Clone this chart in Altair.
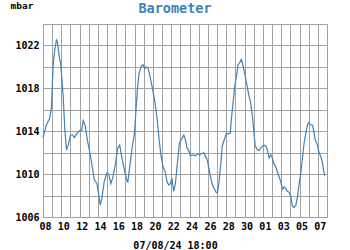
import altair as alt
import pandas as pd

# Days since 08 Jul 2024 00:00 and barometric pressure (mbar)
days = [0.0, 0.37, 0.73, 0.92, 1.1, 1.28, 1.47, 1.58, 1.76, 1.94, 2.2, 2.39, 2.57, 2.75,
        3.0, 3.23, 3.41, 3.67, 3.96, 4.22, 4.4, 4.59, 4.84, 5.14, 5.43, 5.61, 5.87, 6.06,
        6.24, 6.42, 6.68, 6.97, 7.16, 7.41, 7.63, 7.89, 8.15, 8.37, 8.62, 8.88, 9.1, 9.25,
        9.47, 9.72, 9.98, 10.1, 10.3, 10.48, 10.74, 10.92, 11.1, 11.25, 11.47, 11.69, 11.95,
        12.2, 12.43, 12.68, 12.87, 13.09, 13.35, 13.53, 13.71, 13.9, 14.08, 14.26, 14.45,
        14.63, 14.89, 15.15, 15.37, 15.55, 15.74, 15.92, 16.1, 16.36, 16.62, 16.9, 17.1,
        17.28, 17.54, 17.72, 17.94, 18.2, 18.46, 18.68, 18.9, 19.04, 19.19, 19.41, 19.56,
        19.78, 20.04, 20.22, 20.44, 20.56, 20.74, 20.93, 21.11, 21.29, 21.47, 21.66, 21.84,
        22.02, 22.28, 22.49, 22.64, 22.86, 23.0, 23.15, 23.37, 23.59, 23.77, 23.95, 24.13,
        24.32, 24.5, 24.68, 24.86, 25.04, 25.23, 25.4, 25.59, 25.77, 25.95, 26.14, 26.32,
        26.5, 26.68, 26.86, 27.05, 27.23, 27.41, 27.6, 27.78, 27.96, 28.14, 28.32, 28.5,
        28.69, 28.87, 29.01, 29.2, 29.42, 29.56, 29.71, 29.93, 30.1, 30.29, 30.47, 30.62,
        30.76]
pressure = [1013.4, 1014.6, 1015.2, 1016.2, 1020.1, 1021.6, 1022.5, 1022.3, 1021.0, 1020.2,
            1017.25, 1014.1, 1012.25, 1012.7, 1013.65, 1013.65, 1013.4, 1013.75, 1014.05,
            1014.1, 1015.0, 1014.6, 1013.2, 1011.9, 1010.4, 1009.4, 1009.2, 1008.2, 1007.1,
            1007.7, 1009.3, 1010.1, 1010.0, 1009.1, 1009.75, 1010.85, 1012.4, 1012.7, 1011.5,
            1010.4, 1009.6, 1009.2, 1010.7, 1012.4, 1013.8, 1015.3, 1017.9, 1019.4, 1020.1,
            1020.2, 1019.8, 1020.0, 1019.9, 1019.1, 1018.0, 1016.8, 1015.4, 1013.2, 1011.8,
            1010.7, 1010.2, 1009.3, 1009.0, 1009.1, 1009.6, 1008.4, 1009.1, 1010.7, 1012.9,
            1013.3, 1013.65, 1013.2, 1012.4, 1012.2, 1011.7, 1011.8, 1011.7, 1011.9, 1011.8,
            1011.9, 1012.0, 1011.7, 1011.3, 1010.1, 1009.1, 1008.65, 1008.3, 1008.25, 1009.1,
            1011.0, 1012.6, 1013.2, 1013.8, 1013.75, 1013.8, 1015.1, 1016.6, 1018.2, 1019.1,
            1020.2, 1020.4, 1020.7, 1020.1, 1019.4, 1018.2, 1017.25, 1016.8, 1015.4, 1014.1,
            1012.7, 1012.3, 1012.2, 1012.4, 1012.6, 1012.7, 1012.6, 1012.25, 1011.5, 1011.8,
            1011.5, 1010.9, 1010.7, 1010.2, 1009.75, 1009.3, 1008.6, 1008.8, 1008.65, 1008.4,
            1008.3, 1007.9, 1007.0, 1006.9, 1007.1, 1007.9, 1009.1, 1010.1, 1011.5, 1012.9,
            1013.8, 1014.6, 1014.8, 1014.6, 1014.55, 1014.0, 1013.2, 1012.8, 1012.1, 1011.7,
            1011.2, 1010.4, 1009.85]

x_tick_labels = ["08", "10", "12", "14", "16", "18", "20", "22", "24", "26", "28", "30",
                 "01", "03", "05", "07"]
y_grid_values = [1006, 1008, 1010, 1012, 1014, 1016, 1018, 1020, 1022, 1024]
x_grid_values = list(range(0, 32))

df = pd.DataFrame({"day": days, "mbar": pressure})

FONT = "DejaVu Sans Mono"
GRID = "#a0a0a0"
BLUE = "#4282b4"

label_array = "[" + ",".join("'" + s + "'" for s in x_tick_labels) + "]"
x_label_expr = ("datum.value % 2 == 0 && datum.value < 31 ? "
                + label_array + "[datum.value / 2] : ''")

chart = (
    alt.Chart(df)
    .mark_line(color=BLUE, strokeWidth=1.2)
    .encode(
        x=alt.X(
            "day:Q",
            scale=alt.Scale(domain=[0, 31], nice=False, zero=False),
            axis=alt.Axis(
                values=x_grid_values,
                labelExpr=x_label_expr,
                ticks=False,
                domain=False,
                grid=True,
                gridColor=GRID,
                gridOpacity=1,
                gridWidth=1,
                labelFont=FONT,
                labelFontWeight="bold",
                labelFontSize=10,
                labelColor="black",
                labelPadding=4,
                labelOffset=2,
                labelOverlap=False,
                labelFlush=False,
                labelBound=False,
                title="07/08/24 18:00",
                titleFont=FONT,
                titleFontWeight="bold",
                titleFontSize=10,
                titleColor="black",
                titleX=132,
                titleY=31,
                titleAlign="center",
                titleBaseline="alphabetic",
            ),
        ),
        y=alt.Y(
            "mbar:Q",
            scale=alt.Scale(domain=[1006, 1024], nice=False, zero=False),
            axis=alt.Axis(
                values=y_grid_values,
                labelExpr="(datum.value - 1006) % 4 == 0 ? datum.label : ''",
                ticks=False,
                domain=False,
                grid=True,
                gridColor=GRID,
                gridOpacity=1,
                gridWidth=1,
                labelFont=FONT,
                labelFontWeight="bold",
                labelFontSize=10,
                labelColor="black",
                labelPadding=4,
                labelOverlap=False,
                labelFlush=False,
                labelBound=False,
                format="d",
                title="mbar",
                titleFont=FONT,
                titleFontWeight="bold",
                titleFontSize=9.5,
                titleColor="black",
                titleAngle=0,
                titleX=-33,
                titleY=-16,
                titleAlign="left",
                titleBaseline="alphabetic",
            ),
        ),
    )
    .properties(
        width=284,
        height=193,
        background="white",
        title=alt.TitleParams(
            text="Barometer",
            font=FONT,
            fontWeight="bold",
            fontSize=13.5,
            color=BLUE,
            anchor="middle",
            frame="group",
            dx=-10,
            dy=17,
            baseline="alphabetic",
            offset=-9,
        ),
        autosize=alt.AutoSizeParams(type="none"),
        padding={"left": 43, "top": 24, "right": 23, "bottom": 33},
    )
    .configure_view(stroke=GRID, strokeWidth=1)
)

chart.save("out.html", embed_options={"renderer": "svg", "actions": False})
